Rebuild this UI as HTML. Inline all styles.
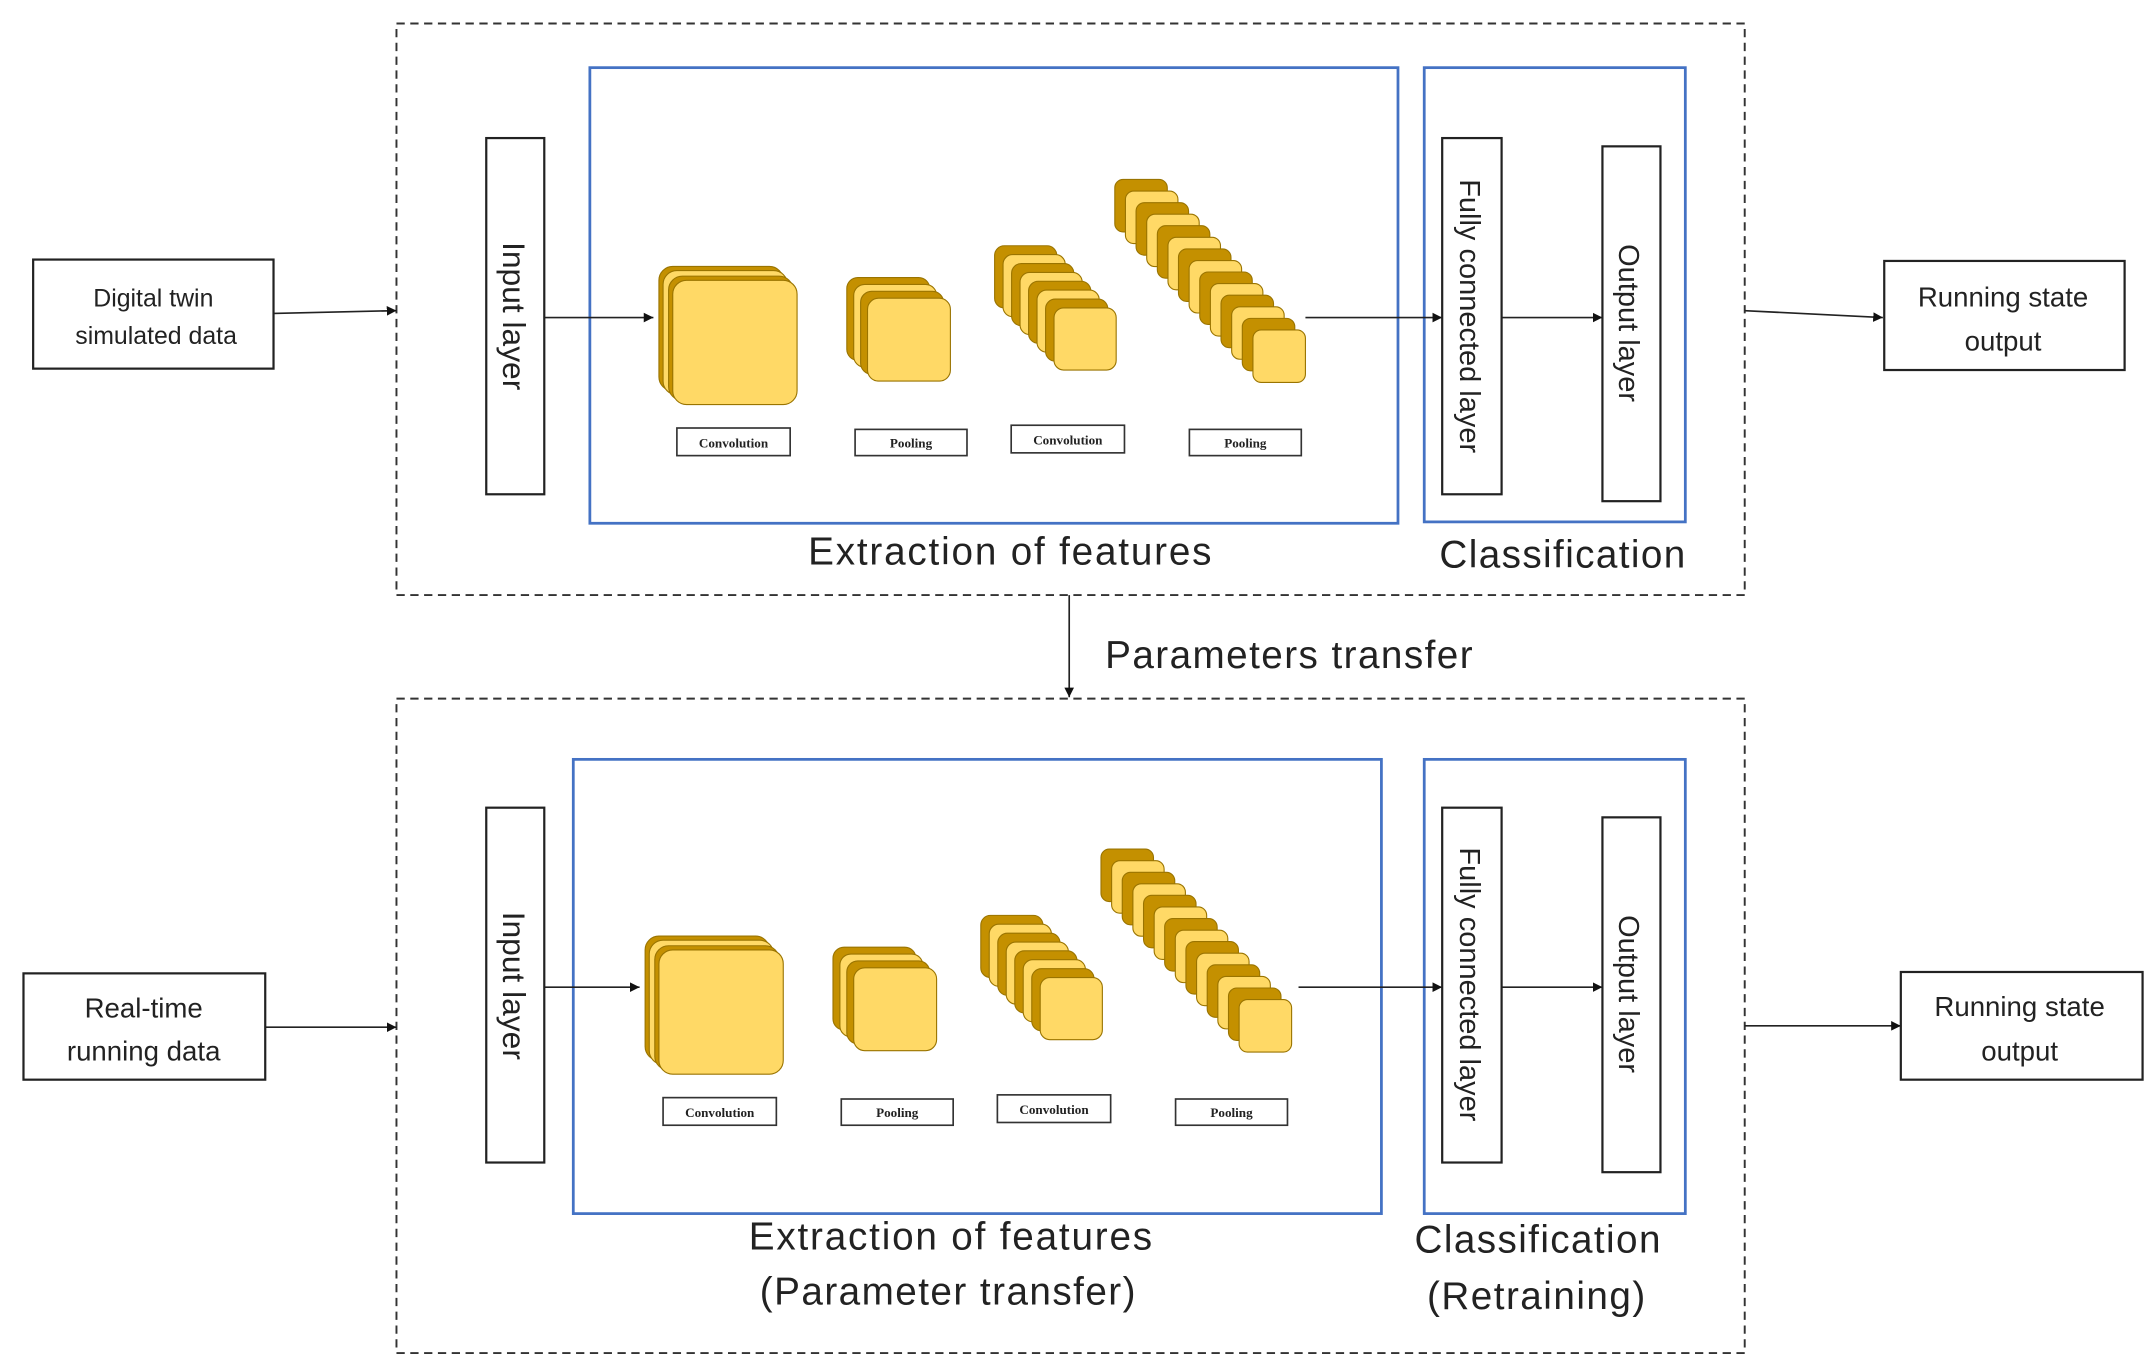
<!DOCTYPE html>
<html><head><meta charset="utf-8"><style>
html,body{margin:0;padding:0;background:#fff;}
svg{display:block;}
text{font-family:"Liberation Sans",sans-serif;fill:#222;}
.s{font-family:"Liberation Serif",serif;font-weight:bold;font-size:9.5px;}
</style></head><body>
<svg width="2155" height="1371" viewBox="0 0 1560 993" preserveAspectRatio="none" xmlns="http://www.w3.org/2000/svg">
<defs>
<marker id="a" viewBox="0 0 10 10" refX="10" refY="5" markerWidth="7" markerHeight="7" orient="auto" markerUnits="userSpaceOnUse"><path d="M0,0L10,5L0,10z" fill="#111"/></marker>
<g id="stk">
 <g stroke="#9a7400" stroke-width="0.8">
  <rect x="477" y="193" width="90" height="90" rx="10" fill="#C49000"/>
  <rect x="480" y="196" width="90" height="90" rx="10" fill="#FFD966"/>
  <rect x="484" y="200" width="90" height="90" rx="10" fill="#C49000"/>
  <rect x="487" y="203" width="90" height="90" rx="10" fill="#FFD966"/>
  <rect x="613" y="201" width="60" height="60" rx="8" fill="#C49000"/>
  <rect x="618" y="206" width="60" height="60" rx="8" fill="#FFD966"/>
  <rect x="623" y="211" width="60" height="60" rx="8" fill="#C49000"/>
  <rect x="628" y="216" width="60" height="60" rx="8" fill="#FFD966"/>
  <rect x="720" y="178" width="45" height="45" rx="7" fill="#C49000"/>
  <rect x="726.1" y="184.4" width="45" height="45" rx="7" fill="#FFD966"/>
  <rect x="732.3" y="190.9" width="45" height="45" rx="7" fill="#C49000"/>
  <rect x="738.4" y="197.3" width="45" height="45" rx="7" fill="#FFD966"/>
  <rect x="744.6" y="203.7" width="45" height="45" rx="7" fill="#C49000"/>
  <rect x="750.7" y="210.1" width="45" height="45" rx="7" fill="#FFD966"/>
  <rect x="756.9" y="216.6" width="45" height="45" rx="7" fill="#C49000"/>
  <rect x="763" y="223" width="45" height="45" rx="7" fill="#FFD966"/>
  <rect x="807" y="130" width="38" height="38" rx="6" fill="#C49000"/>
  <rect x="814.7" y="138.4" width="38" height="38" rx="6" fill="#FFD966"/>
  <rect x="822.4" y="146.8" width="38" height="38" rx="6" fill="#C49000"/>
  <rect x="830.1" y="155.1" width="38" height="38" rx="6" fill="#FFD966"/>
  <rect x="837.8" y="163.5" width="38" height="38" rx="6" fill="#C49000"/>
  <rect x="845.5" y="171.9" width="38" height="38" rx="6" fill="#FFD966"/>
  <rect x="853.1" y="180.3" width="38" height="38" rx="6" fill="#C49000"/>
  <rect x="860.8" y="188.7" width="38" height="38" rx="6" fill="#FFD966"/>
  <rect x="868.5" y="197" width="38" height="38" rx="6" fill="#C49000"/>
  <rect x="876.2" y="205.4" width="38" height="38" rx="6" fill="#FFD966"/>
  <rect x="883.9" y="213.8" width="38" height="38" rx="6" fill="#C49000"/>
  <rect x="891.6" y="222.2" width="38" height="38" rx="6" fill="#FFD966"/>
  <rect x="899.3" y="230.6" width="38" height="38" rx="6" fill="#C49000"/>
  <rect x="907" y="239" width="38" height="38" rx="6" fill="#FFD966"/>
 </g>
 <g fill="#fff" stroke="#333" stroke-width="1.2">
  <rect x="490" y="310" width="82" height="20"/>
  <rect x="619" y="311" width="81" height="19"/>
  <rect x="732" y="308" width="82" height="20"/>
  <rect x="861" y="311" width="81" height="19"/>
 </g>
 <text class="s" x="531" y="324" text-anchor="middle">Convolution</text>
 <text class="s" x="659.5" y="324" text-anchor="middle">Pooling</text>
 <text class="s" x="773" y="322" text-anchor="middle">Convolution</text>
 <text class="s" x="901.5" y="324" text-anchor="middle">Pooling</text>
</g>
</defs>

<!-- dashed containers -->
<rect x="287" y="17" width="976" height="414" fill="none" stroke="#333" stroke-width="1.4" stroke-dasharray="6,4"/>
<rect x="287" y="506" width="976" height="474" fill="none" stroke="#333" stroke-width="1.4" stroke-dasharray="6,4"/>

<!-- TOP -->
<rect x="24" y="188" width="174" height="79" fill="#fff" stroke="#222" stroke-width="1.6"/>
<text x="111" y="222" font-size="18" text-anchor="middle">Digital twin</text>
<text x="113" y="249" font-size="18" text-anchor="middle">simulated data</text>
<line x1="198" y1="227" x2="287" y2="225" stroke="#222" stroke-width="1.2" marker-end="url(#a)"/>

<rect x="352" y="100" width="42" height="258" fill="#fff" stroke="#222" stroke-width="1.6"/>
<text transform="translate(364,229) rotate(90)" font-size="23" text-anchor="middle">Input layer</text>

<rect x="427" y="49" width="585" height="330" fill="none" stroke="#4472C4" stroke-width="2"/>
<rect x="1031" y="49" width="189" height="329" fill="none" stroke="#4472C4" stroke-width="2"/>
<line x1="394" y1="230" x2="473" y2="230" stroke="#222" stroke-width="1.2" marker-end="url(#a)"/>
<use href="#stk"/>
<line x1="945" y1="230" x2="1044" y2="230" stroke="#222" stroke-width="1.2" marker-end="url(#a)"/>

<rect x="1044" y="100" width="43" height="258" fill="#fff" stroke="#222" stroke-width="1.6"/>
<text transform="translate(1057,229) rotate(90)" font-size="21" text-anchor="middle">Fully connected layer</text>
<line x1="1087" y1="230" x2="1160" y2="230" stroke="#222" stroke-width="1.2" marker-end="url(#a)"/>
<rect x="1160" y="106" width="42" height="257" fill="#fff" stroke="#222" stroke-width="1.6"/>
<text transform="translate(1172,234) rotate(90)" font-size="21" text-anchor="middle">Output layer</text>

<text x="731" y="409" font-size="28" text-anchor="middle" textLength="292">Extraction of features</text>
<text x="1131" y="411" font-size="28" text-anchor="middle" textLength="178">Classification</text>

<line x1="1263" y1="225" x2="1363" y2="230" stroke="#222" stroke-width="1.2" marker-end="url(#a)"/>
<rect x="1364" y="189" width="174" height="79" fill="#fff" stroke="#222" stroke-width="1.6"/>
<text x="1450" y="222" font-size="20" text-anchor="middle">Running state</text>
<text x="1450" y="254" font-size="20" text-anchor="middle">output</text>

<!-- transfer -->
<line x1="774" y1="431" x2="774" y2="505" stroke="#222" stroke-width="1.2" marker-end="url(#a)"/>
<text x="800" y="484" font-size="28" textLength="266">Parameters transfer</text>

<!-- BOTTOM -->
<rect x="17" y="705" width="175" height="77" fill="#fff" stroke="#222" stroke-width="1.6"/>
<text x="104" y="737" font-size="20" text-anchor="middle">Real-time</text>
<text x="104" y="768" font-size="20" text-anchor="middle">running data</text>
<line x1="192" y1="744" x2="287" y2="744" stroke="#222" stroke-width="1.2" marker-end="url(#a)"/>

<rect x="352" y="585" width="42" height="257" fill="#fff" stroke="#222" stroke-width="1.6"/>
<text transform="translate(364,714) rotate(90)" font-size="23" text-anchor="middle">Input layer</text>

<rect x="415" y="550" width="585" height="329" fill="none" stroke="#4472C4" stroke-width="2"/>
<rect x="1031" y="550" width="189" height="329" fill="none" stroke="#4472C4" stroke-width="2"/>
<line x1="394" y1="715" x2="463" y2="715" stroke="#222" stroke-width="1.2" marker-end="url(#a)"/>
<use href="#stk" transform="translate(-10,485)"/>
<line x1="940" y1="715" x2="1044" y2="715" stroke="#222" stroke-width="1.2" marker-end="url(#a)"/>

<rect x="1044" y="585" width="43" height="257" fill="#fff" stroke="#222" stroke-width="1.6"/>
<text transform="translate(1057,713) rotate(90)" font-size="21" text-anchor="middle">Fully connected layer</text>
<line x1="1087" y1="715" x2="1160" y2="715" stroke="#222" stroke-width="1.2" marker-end="url(#a)"/>
<rect x="1160" y="592" width="42" height="257" fill="#fff" stroke="#222" stroke-width="1.6"/>
<text transform="translate(1172,720) rotate(90)" font-size="21" text-anchor="middle">Output layer</text>

<text x="688" y="905" font-size="28" text-anchor="middle" textLength="292">Extraction of features</text>
<text x="686" y="945" font-size="28" text-anchor="middle" textLength="272">(Parameter transfer)</text>
<text x="1113" y="907" font-size="28" text-anchor="middle" textLength="178">Classification</text>
<text x="1112" y="948" font-size="28" text-anchor="middle" textLength="158">(Retraining)</text>

<line x1="1263" y1="743" x2="1376" y2="743" stroke="#222" stroke-width="1.2" marker-end="url(#a)"/>
<rect x="1376" y="704" width="175" height="78" fill="#fff" stroke="#222" stroke-width="1.6"/>
<text x="1462" y="736" font-size="20" text-anchor="middle">Running state</text>
<text x="1462" y="768" font-size="20" text-anchor="middle">output</text>
</svg>
</body></html>
